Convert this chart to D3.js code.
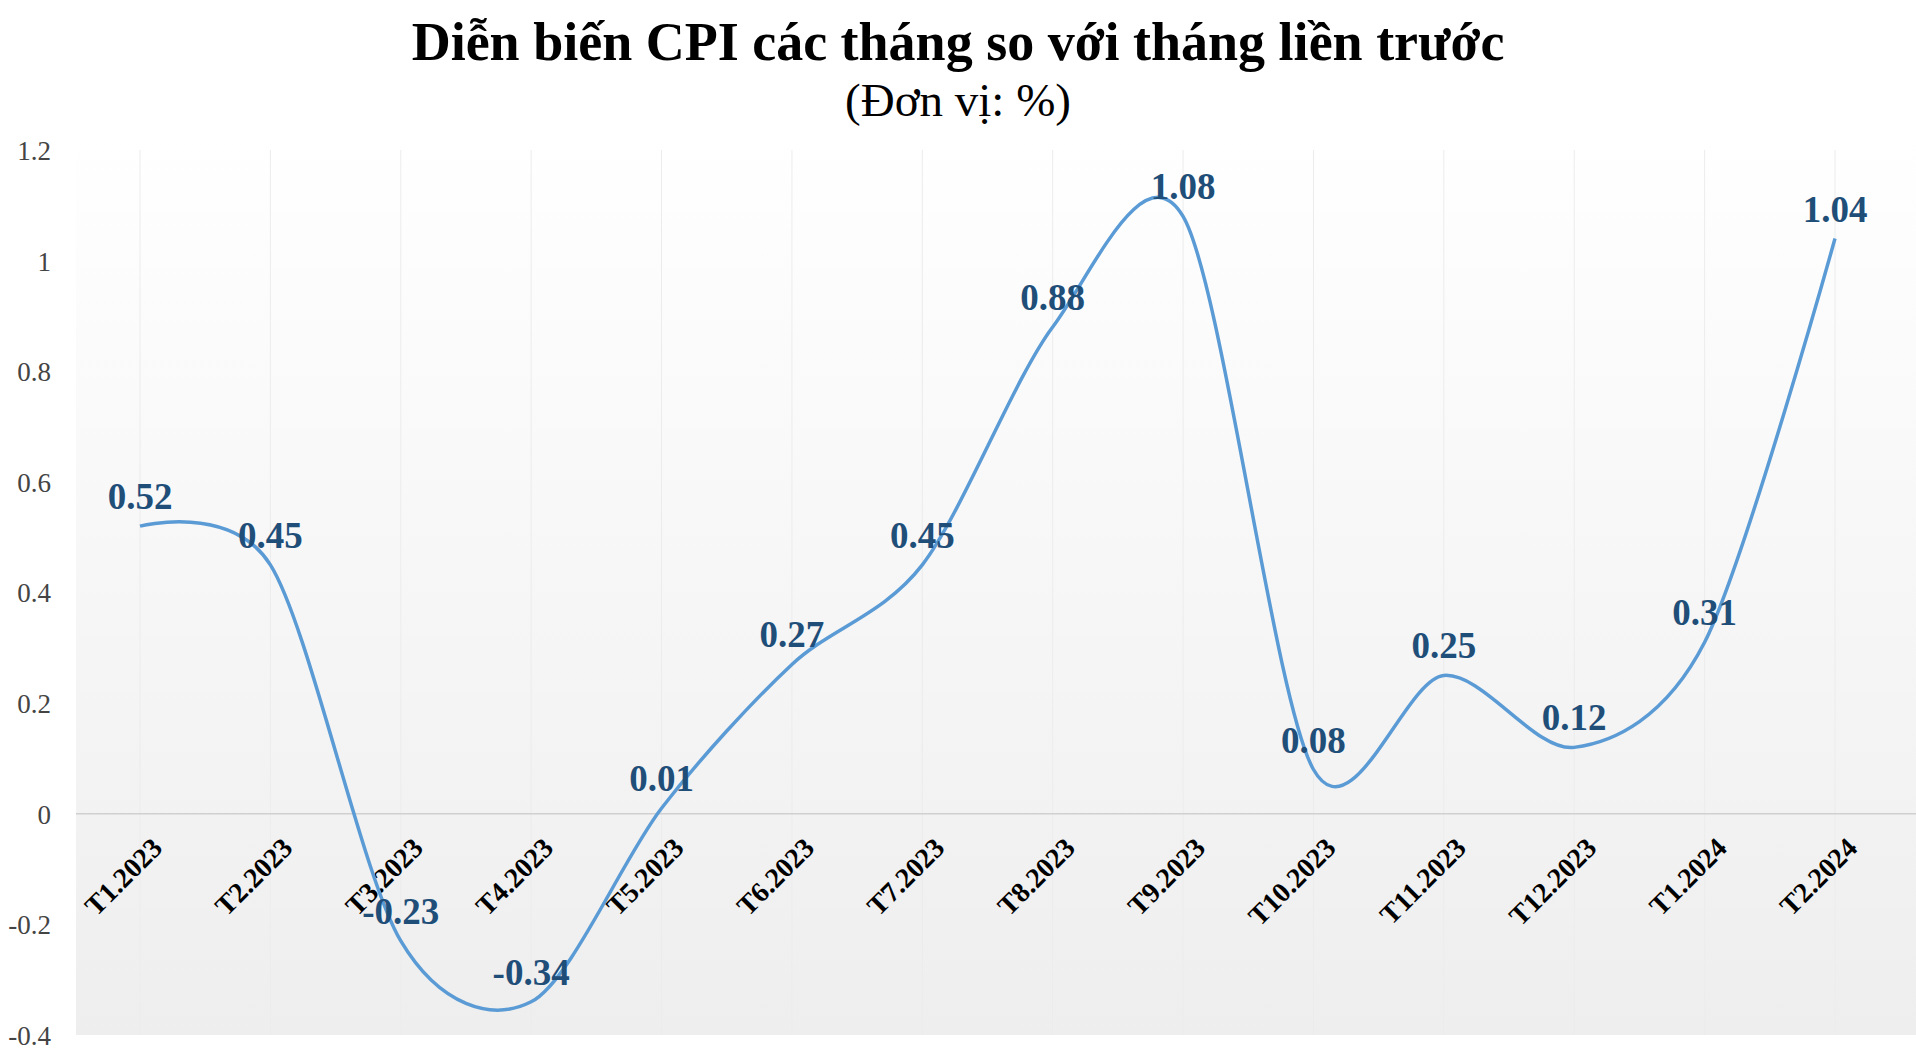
<!DOCTYPE html>
<html><head><meta charset="utf-8">
<script src="https://cdn.jsdelivr.net/npm/d3@7"></script>
<style>body{margin:0;background:#fff}</style>
</head><body>
<svg id="chart" width="1916" height="1048"></svg>
<script>
// Dữ liệu CPI theo tháng
const months = ['T1.2023','T2.2023','T3.2023','T4.2023','T5.2023','T6.2023','T7.2023','T8.2023','T9.2023','T10.2023','T11.2023','T12.2023','T1.2024','T2.2024'];
const cpi = [0.52, 0.45, -0.23, -0.34, 0.01, 0.27, 0.45, 0.88, 1.08, 0.08, 0.25, 0.12, 0.31, 1.04];
const yTicks = [-0.4, -0.2, 0, 0.2, 0.4, 0.6, 0.8, 1, 1.2];

const svg = d3.select('#chart');
const plot = {left: 76, right: 1916, top: 130, bottom: 1035};

const defs = svg.append('defs');
const grad = defs.append('linearGradient').attr('id', 'bg').attr('x1', 0).attr('x2', 0).attr('y1', 0).attr('y2', 1);
grad.append('stop').attr('offset', '0%').attr('stop-color', '#ffffff');
grad.append('stop').attr('offset', '100%').attr('stop-color', '#eeeeee');

svg.append('rect').attr('x', plot.left).attr('y', plot.top)
  .attr('width', plot.right - plot.left).attr('height', plot.bottom - plot.top)
  .attr('fill', 'url(#bg)');

const x = d3.scalePoint().domain(months).range([140, 1835]);
const y = d3.scaleLinear().domain([-0.4, 1.2]).range([1035, 150]);

// Lưới dọc (rất nhạt)
svg.append('g').selectAll('line').data(months).join('line')
  .attr('x1', d => x(d)).attr('x2', d => x(d))
  .attr('y1', y(1.2)).attr('y2', plot.bottom)
  .attr('stroke', '#ececec').attr('stroke-width', 1);

// Đường 0
svg.append('line').attr('x1', plot.left).attr('x2', plot.right)
  .attr('y1', y(0)).attr('y2', y(0)).attr('stroke', '#d0d0d0').attr('stroke-width', 1.5);

// Trục Y
const yAxis = svg.append('g').attr('transform', `translate(${plot.left - 22},0)`)
  .call(d3.axisLeft(y).tickValues(yTicks).tickSize(0).tickFormat(d => String(+d.toFixed(1))));
yAxis.select('.domain').remove();
yAxis.selectAll('text').attr('font-family', '"Liberation Serif", serif')
  .attr('font-size', 27).attr('fill', '#444').attr('dy', '0.35em');

// Nhãn trục X
svg.append('g').selectAll('text').data(months).join('text')
  .attr('transform', d => `translate(${x(d) + 10},${y(0) + 22}) rotate(-45)`)
  .attr('text-anchor', 'end').attr('dy', '0.7em')
  .attr('font-family', '"Liberation Serif", serif').attr('font-weight', 'bold')
  .attr('font-size', 28).attr('fill', '#000')
  .text(d => d);

// Đường cong
const line = d3.line().x((d, i) => x(months[i])).y(d => y(d)).curve(d3.curveCardinal.tension(0.1));
svg.append('path').datum(cpi).attr('d', line)
  .attr('fill', 'none').attr('stroke', '#5b9bd5').attr('stroke-width', 3.5);

// Nhãn giá trị
svg.append('g').selectAll('text').data(cpi).join('text')
  .attr('x', (d, i) => x(months[i]))
  .attr('y', d => y(d) - 17)
  .attr('text-anchor', 'middle')
  .attr('font-family', '"Liberation Serif", serif').attr('font-weight', 'bold')
  .attr('font-size', 37).attr('fill', '#1f4e79')
  .text(d => d);

// Tiêu đề
svg.append('text').attr('x', 958).attr('y', 60).attr('text-anchor', 'middle')
  .attr('font-family', '"Liberation Serif", serif').attr('font-weight', 'bold')
  .attr('font-size', 54).attr('fill', '#000')
  .text('Diễn biến CPI các tháng so với tháng liền trước');
svg.append('text').attr('x', 958).attr('y', 116).attr('text-anchor', 'middle')
  .attr('font-family', '"Liberation Serif", serif')
  .attr('font-size', 47).attr('fill', '#000')
  .text('(Đơn vị: %)');
</script>
</body></html>
